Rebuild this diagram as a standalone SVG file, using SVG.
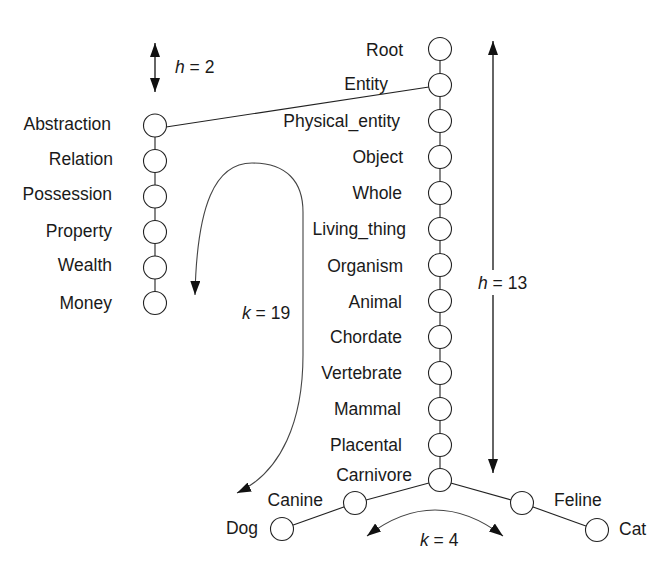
<svg xmlns="http://www.w3.org/2000/svg" width="659" height="566" viewBox="0 0 659 566">
<defs>
<style>
text{font-family:"Liberation Sans",Arial,sans-serif;font-size:17.5px;fill:#1a1a1a}
.l{text-anchor:end}
.n{fill:#fff;stroke:#222;stroke-width:1.1}
.e{stroke:#222;stroke-width:1.1;fill:none}
.a{stroke:#111;stroke-width:1.3;fill:none}
.c{stroke:#444;stroke-width:1.1;fill:none}
</style>
<marker id="ah" viewBox="0 0 14 10" refX="14" refY="5" markerWidth="14" markerHeight="10" markerUnits="userSpaceOnUse" orient="auto-start-reverse">
<path d="M0,0 L14,5 L0,10 Z" fill="#111"/>
</marker>
</defs>
<rect width="659" height="566" fill="#fff"/>
<g id="connectors">
<line class="e" x1="440" y1="49" x2="440" y2="480"/>
<line class="e" x1="155" y1="125.5" x2="155" y2="303"/>
<line class="e" x1="166" y1="127" x2="429" y2="87"/>
<line class="e" x1="440" y1="480" x2="355" y2="503"/>
<line class="e" x1="355" y1="503" x2="282" y2="529"/>
<line class="e" x1="440" y1="480" x2="522" y2="503"/>
<line class="e" x1="522" y1="503" x2="597" y2="530"/>
</g>
<g id="measures">
<line class="a" x1="155" y1="43" x2="155" y2="92" marker-start="url(#ah)" marker-end="url(#ah)"/>
<line class="a" x1="493" y1="41" x2="493" y2="270" marker-start="url(#ah)"/>
<line class="a" x1="493" y1="295" x2="493" y2="473" marker-end="url(#ah)"/>
<path class="c" d="M195,295 C197,205 215,163 252,163 C287,163 303,182 303,212 L303,355 C303,420 282,472 237,493" marker-start="url(#ah)" marker-end="url(#ah)"/>
<path class="c" d="M367,536 Q435,484 503,536" marker-start="url(#ah)" marker-end="url(#ah)"/>
<text x="175" y="73"><tspan font-style="italic">h</tspan> = 2</text>
<text x="478" y="289"><tspan font-style="italic">h</tspan> = 13</text>
<text x="242" y="319"><tspan font-style="italic">k</tspan> = 19</text>
<text x="420" y="546"><tspan font-style="italic">k</tspan> = 4</text>
</g>
<g id="n-root"><circle class="n" cx="440" cy="49" r="11.5"/><text class="l" x="403" y="56">Root</text></g>
<g id="n-entity"><circle class="n" cx="440" cy="85" r="11.5"/><text class="l" x="388" y="90">Entity</text></g>
<g id="n-physical_entity"><circle class="n" cx="440" cy="121" r="11.5"/><text class="l" x="400" y="127">Physical_entity</text></g>
<g id="n-object"><circle class="n" cx="440" cy="157" r="11.5"/><text class="l" x="403" y="163">Object</text></g>
<g id="n-whole"><circle class="n" cx="440" cy="193" r="11.5"/><text class="l" x="402" y="199">Whole</text></g>
<g id="n-living_thing"><circle class="n" cx="440" cy="229" r="11.5"/><text class="l" x="406" y="235">Living_thing</text></g>
<g id="n-organism"><circle class="n" cx="440" cy="265" r="11.5"/><text class="l" x="403" y="271.5">Organism</text></g>
<g id="n-animal"><circle class="n" cx="440" cy="301" r="11.5"/><text class="l" x="402" y="307.5">Animal</text></g>
<g id="n-chordate"><circle class="n" cx="440" cy="337" r="11.5"/><text class="l" x="402" y="343">Chordate</text></g>
<g id="n-vertebrate"><circle class="n" cx="440" cy="373" r="11.5"/><text class="l" x="402" y="379">Vertebrate</text></g>
<g id="n-mammal"><circle class="n" cx="440" cy="409" r="11.5"/><text class="l" x="401" y="415">Mammal</text></g>
<g id="n-placental"><circle class="n" cx="440" cy="445" r="11.5"/><text class="l" x="402" y="451">Placental</text></g>
<g id="n-carnivore"><circle class="n" cx="440" cy="480" r="11.5"/><text class="l" x="412" y="481">Carnivore</text></g>
<g id="n-canine"><circle class="n" cx="355" cy="503" r="11.5"/><text class="l" x="323" y="505.5">Canine</text></g>
<g id="n-dog"><circle class="n" cx="282" cy="529" r="11.5"/><text class="l" x="258" y="534">Dog</text></g>
<g id="n-feline"><circle class="n" cx="522" cy="503" r="11.5"/><text x="554" y="505.5">Feline</text></g>
<g id="n-cat"><circle class="n" cx="597" cy="530" r="11.5"/><text x="619" y="535">Cat</text></g>
<g id="n-abstraction"><circle class="n" cx="155" cy="125.5" r="11.5"/><text class="l" x="111" y="130">Abstraction</text></g>
<g id="n-relation"><circle class="n" cx="155" cy="161" r="11.5"/><text class="l" x="113" y="165">Relation</text></g>
<g id="n-possession"><circle class="n" cx="155" cy="196.5" r="11.5"/><text class="l" x="112" y="199.5">Possession</text></g>
<g id="n-property"><circle class="n" cx="155" cy="232" r="11.5"/><text class="l" x="112" y="236.5">Property</text></g>
<g id="n-wealth"><circle class="n" cx="155" cy="267.5" r="11.5"/><text class="l" x="112" y="271">Wealth</text></g>
<g id="n-money"><circle class="n" cx="155" cy="303" r="11.5"/><text class="l" x="112" y="309">Money</text></g>
</svg>
